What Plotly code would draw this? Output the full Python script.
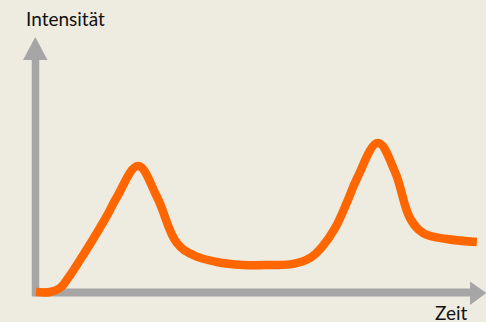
import plotly.graph_objects as go

# Chromatogram-style sketch: intensity over time with two peaks
zeit = [0.0, 0.32, 0.55, 0.73, 1.0, 1.3, 1.61, 1.84, 2.32,
        2.75, 3.2, 3.57, 4.11, 4.7, 5.32, 5.84, 6.23, 6.5, 6.8,
        7.07, 7.3, 7.77, 8.16, 8.5, 8.8, 9.34, 10.02]
intensitaet = [0.0, 0.0, 0.27, 0.93, 2.13, 3.53, 5.07, 6.33, 8.4,
               6.33, 3.27, 2.47, 2.0, 1.8, 1.8, 1.87, 2.27, 3.0, 4.27,
               6.0, 7.6, 9.93, 8.0, 4.93, 3.93, 3.53, 3.33]

x_label = "Zeit"
y_label = "Intensität"

W, H = 486, 322
BG = "#EEEBE1"
AXIS = "#A6A6A6"
CURVE = "#FF6600"


def px(x):
    return x / W


def py(y):
    return 1 - y / H


fig = go.Figure()
fig.add_trace(go.Scatter(
    x=zeit, y=intensitaet, mode="lines",
    line=dict(color=CURVE, width=8.5, shape="spline", smoothing=1.1),
    hoverinfo="skip", showlegend=False,
))

shapes = [
    # vertical axis shaft + arrowhead
    dict(type="line", xref="paper", yref="paper",
         x0=px(35.5), x1=px(35.5), y0=py(296), y1=py(58),
         line=dict(color=AXIS, width=7.5), layer="below"),
    dict(type="path", xref="paper", yref="paper",
         path=f"M {px(23)},{py(60)} L {px(35.3)},{py(37)} L {px(47.5)},{py(60)} Z",
         fillcolor=AXIS, line=dict(width=0), layer="below"),
    # horizontal axis shaft + arrowhead
    dict(type="line", xref="paper", yref="paper",
         x0=px(32), x1=px(472), y0=py(292.5), y1=py(292.5),
         line=dict(color=AXIS, width=8), layer="below"),
    dict(type="path", xref="paper", yref="paper",
         path=f"M {px(470)},{py(281.5)} L {px(486.5)},{py(293)} L {px(470)},{py(305)} Z",
         fillcolor=AXIS, line=dict(width=0), layer="below"),
]

font = dict(family="Lato, 'Open Sans', sans-serif", size=19, color="#111111")
annotations = [
    dict(text=y_label, xref="paper", yref="paper", x=px(25), y=py(19),
         xanchor="left", yanchor="middle", showarrow=False, font=font,
         borderpad=0),
    dict(text=x_label, xref="paper", yref="paper", x=px(469), y=py(312),
         xanchor="right", yanchor="middle", showarrow=False, font=font,
         borderpad=0),
]

fig.update_layout(
    width=W, height=H,
    margin=dict(l=0, r=0, t=0, b=0),
    paper_bgcolor=BG, plot_bgcolor=BG,
    xaxis=dict(range=[-36 / 44, (W - 36) / 44], visible=False, fixedrange=True),
    yaxis=dict(range=[(292 - H) / 15, 292 / 15], visible=False, fixedrange=True),
    shapes=shapes, annotations=annotations,
)

fig.write_html("out.html")
